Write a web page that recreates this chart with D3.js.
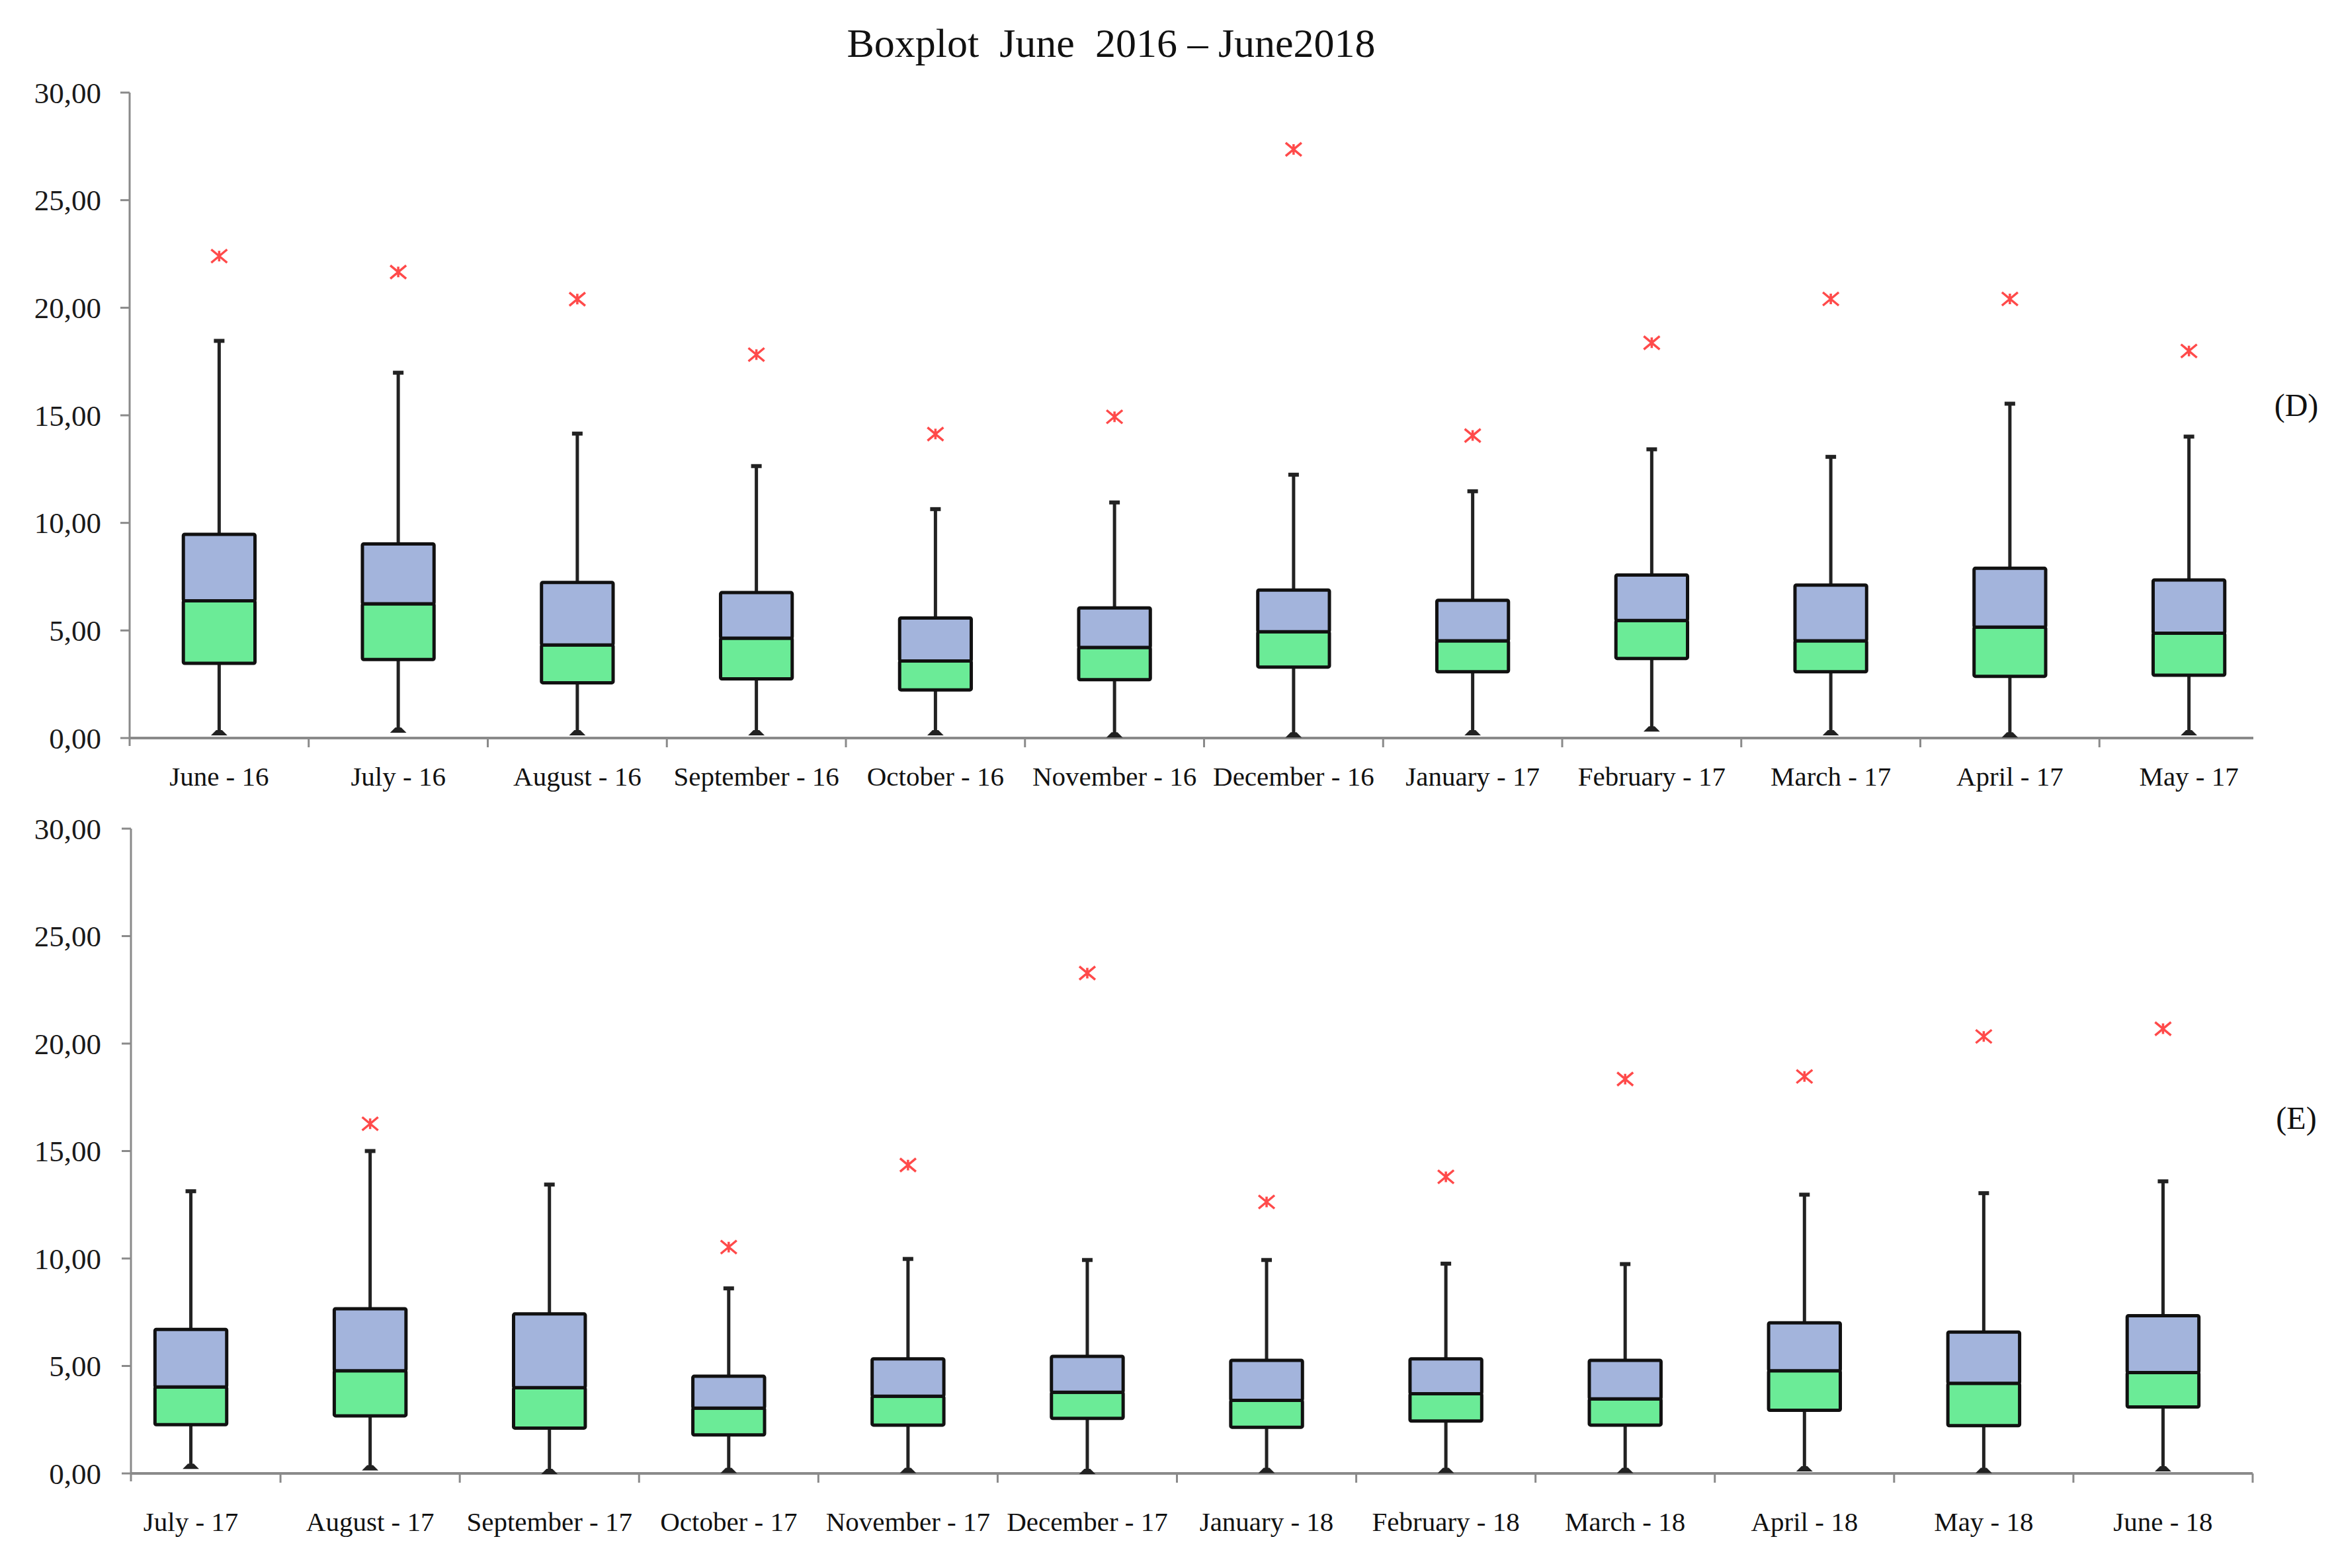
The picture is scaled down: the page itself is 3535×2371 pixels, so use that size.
<!DOCTYPE html>
<html><head><meta charset="utf-8">
<script src="https://cdn.jsdelivr.net/npm/d3@7"></script>
<style>html,body{margin:0;padding:0;background:#fff;}svg{display:block;}</style>
</head><body>
<script>
// ---- Data ----
const title = "Boxplot  June  2016 \u2013 June2018";
const yTicks = [0, 5, 10, 15, 20, 25, 30];

const monthsD = ["June - 16","July - 16","August - 16","September - 16","October - 16","November - 16","December - 16","January - 17","February - 17","March - 17","April - 17","May - 17"];
const minD = [0.15, 0.28, 0.15, 0.15, 0.15, 0.05, 0.05, 0.15, 0.33, 0.15, 0.05, 0.15];
const q1D  = [3.47, 3.65, 2.57, 2.75, 2.24, 2.71, 3.30, 3.08, 3.70, 3.08, 2.87, 2.92];
const medD = [6.38, 6.24, 4.33, 4.64, 3.58, 4.21, 4.94, 4.52, 5.46, 4.52, 5.16, 4.87];
const q3D  = [9.47, 9.02, 7.23, 6.76, 5.58, 6.05, 6.88, 6.40, 7.58, 7.11, 7.89, 7.35];
const maxD = [18.46, 16.98, 14.15, 12.64, 10.64, 10.95, 12.24, 11.47, 13.42, 13.07, 15.54, 14.01];
const outD = [22.4, 21.66, 20.4, 17.82, 14.13, 14.93, 27.36, 14.06, 18.37, 20.41, 20.41, 17.99];

const monthsE = ["July - 17","August - 17","September - 17","October - 17","November - 17","December - 17","January - 18","February - 18","March - 18","April - 18","May - 18","June - 18"];
const minE = [0.24, 0.17, 0.0, 0.05, 0.05, 0.0, 0.05, 0.05, 0.05, 0.12, 0.05, 0.12];
const q1E  = [2.27, 2.68, 2.11, 1.79, 2.25, 2.56, 2.15, 2.44, 2.25, 2.94, 2.22, 3.09];
const medE = [4.02, 4.78, 3.99, 3.04, 3.59, 3.78, 3.40, 3.71, 3.47, 4.78, 4.19, 4.69];
const q3E  = [6.70, 7.66, 7.42, 4.52, 5.33, 5.45, 5.26, 5.33, 5.26, 7.01, 6.58, 7.34];
const maxE = [13.13, 15.0, 13.44, 8.61, 9.98, 9.93, 9.93, 9.76, 9.74, 12.97, 13.04, 13.59];
const outE = [null, 16.27, null, 10.53, 14.35, 23.28, 12.63, 13.80, 18.35, 18.47, 20.33, 20.69];

// ---- Layout ----
const W = 3535, H = 2371;
const FONT = "'Liberation Serif','Times New Roman',serif";
const svg = d3.select("body").append("svg").attr("width", W).attr("height", H);

svg.append("text").attr("x", 1680).attr("y", 86).attr("text-anchor", "middle")
  .attr("font-family", FONT).attr("font-size", 62).attr("fill", "#111")
  .style("white-space", "pre").attr("xml:space", "preserve").text(title);

const fmt = v => d3.format(".2f")(v).replace(".", ",");

function panel(cfg) {
  const {months, mins, q1s, meds, q3s, maxs, outs, yTop, yBot, axisX, bandL, bandR, axisR, lastTick, tag, tagY, labY} = cfg;
  const y = d3.scaleLinear().domain([0, 30]).range([yBot, yTop]);
  const x = d3.scaleBand().domain(months).range([bandL, bandR]).paddingInner(0).paddingOuter(0);
  const g = svg.append("g");
  const axisCol = "#8a8a8a";

  // y axis
  g.append("line").attr("x1", axisX).attr("x2", axisX).attr("y1", y(30)).attr("y2", y(0) + 12)
    .attr("stroke", axisCol).attr("stroke-width", 3);
  g.selectAll(".yt").data(yTicks).enter().append("line")
    .attr("x1", axisX - 14).attr("x2", axisX).attr("y1", d => y(d)).attr("y2", d => y(d))
    .attr("stroke", axisCol).attr("stroke-width", 3);
  g.selectAll(".yl").data(yTicks).enter().append("text")
    .attr("x", 153).attr("y", d => y(d)).attr("dy", "0.35em").attr("text-anchor", "end")
    .attr("font-family", FONT).attr("font-size", 45).attr("fill", "#1a1a1a").text(fmt);

  // x axis
  g.append("line").attr("x1", axisX).attr("x2", axisR).attr("y1", y(0)).attr("y2", y(0))
    .attr("stroke", axisCol).attr("stroke-width", 4);
  const bounds = months.slice(1).map(m => x(m));
  if (lastTick) bounds.push(bandR);
  g.selectAll(".xt").data(bounds).enter().append("line")
    .attr("x1", d => d).attr("x2", d => d).attr("y1", y(0)).attr("y2", y(0) + 14)
    .attr("stroke", axisCol).attr("stroke-width", 3);
  g.selectAll(".xl").data(months).enter().append("text")
    .attr("x", d => x(d) + x.bandwidth() / 2).attr("y", labY).attr("text-anchor", "middle")
    .attr("font-family", FONT).attr("font-size", 41).attr("fill", "#111").text(d => d);

  const bw = x.bandwidth() * 0.40;
  const data = months.map((m, i) => ({m, mn: mins[i], q1: q1s[i], md: meds[i], q3: q3s[i], mx: maxs[i], o: outs[i]}));
  const bx = g.selectAll(".box").data(data).enter().append("g")
    .attr("transform", d => `translate(${x(d.m) + x.bandwidth() / 2},0)`);

  // whiskers
  bx.append("line").attr("x1", 0).attr("x2", 0).attr("y1", d => y(d.q3)).attr("y2", d => y(d.mx))
    .attr("stroke", "#222").attr("stroke-width", 5);
  bx.append("line").attr("x1", 0).attr("x2", 0).attr("y1", d => y(d.q1)).attr("y2", d => y(d.mn))
    .attr("stroke", "#222").attr("stroke-width", 5);
  bx.append("line").attr("x1", -8).attr("x2", 8).attr("y1", d => y(d.mx)).attr("y2", d => y(d.mx))
    .attr("stroke", "#222").attr("stroke-width", 6);
  bx.append("path").attr("d", d => `M-10,${y(d.mn)}L10,${y(d.mn)}L4,${y(d.mn) - 6}L-4,${y(d.mn) - 6}Z`)
    .attr("fill", "#222").attr("stroke", "#222").attr("stroke-width", 2);

  // boxes
  bx.append("rect").attr("x", -bw / 2).attr("width", bw)
    .attr("y", d => y(d.md)).attr("height", d => y(d.q1) - y(d.md))
    .attr("fill", "#6beb97").attr("stroke", "#111").attr("stroke-width", 5).attr("rx", 2);
  bx.append("rect").attr("x", -bw / 2).attr("width", bw)
    .attr("y", d => y(d.q3)).attr("height", d => y(d.md) - y(d.q3))
    .attr("fill", "#a3b4dc").attr("stroke", "#111").attr("stroke-width", 5).attr("rx", 2);

  // outliers: red asterisk (X with short vertical)
  const starPath = "M-12,-10L12,10M-12,10L12,-10M0,-8L0,8";
  bx.filter(d => d.o != null).append("path").attr("d", starPath)
    .attr("transform", d => `translate(0,${y(d.o)})`)
    .attr("fill", "none").attr("stroke", "#ff4a4a").attr("stroke-width", 3.5);

  svg.append("text").attr("x", 3472).attr("y", tagY).attr("dy", "0.35em").attr("text-anchor", "middle")
    .attr("font-family", FONT).attr("font-size", 48).attr("fill", "#111").text(tag);
}

panel({months: monthsD, mins: minD, q1s: q1D, meds: medD, q3s: q3D, maxs: maxD, outs: outD,
  yTop: 140, yBot: 1116, axisX: 196, bandL: 196, bandR: 3445, axisR: 3407, lastTick: false, tag: "(D)", tagY: 612, labY: 1188});
panel({months: monthsE, mins: minE, q1s: q1E, meds: medE, q3s: q3E, maxs: maxE, outs: outE,
  yTop: 1253, yBot: 2228, axisX: 198, bandL: 153, bandR: 3406, axisR: 3406, lastTick: true, tag: "(E)", tagY: 1690, labY: 2315});
</script>
</body></html>
